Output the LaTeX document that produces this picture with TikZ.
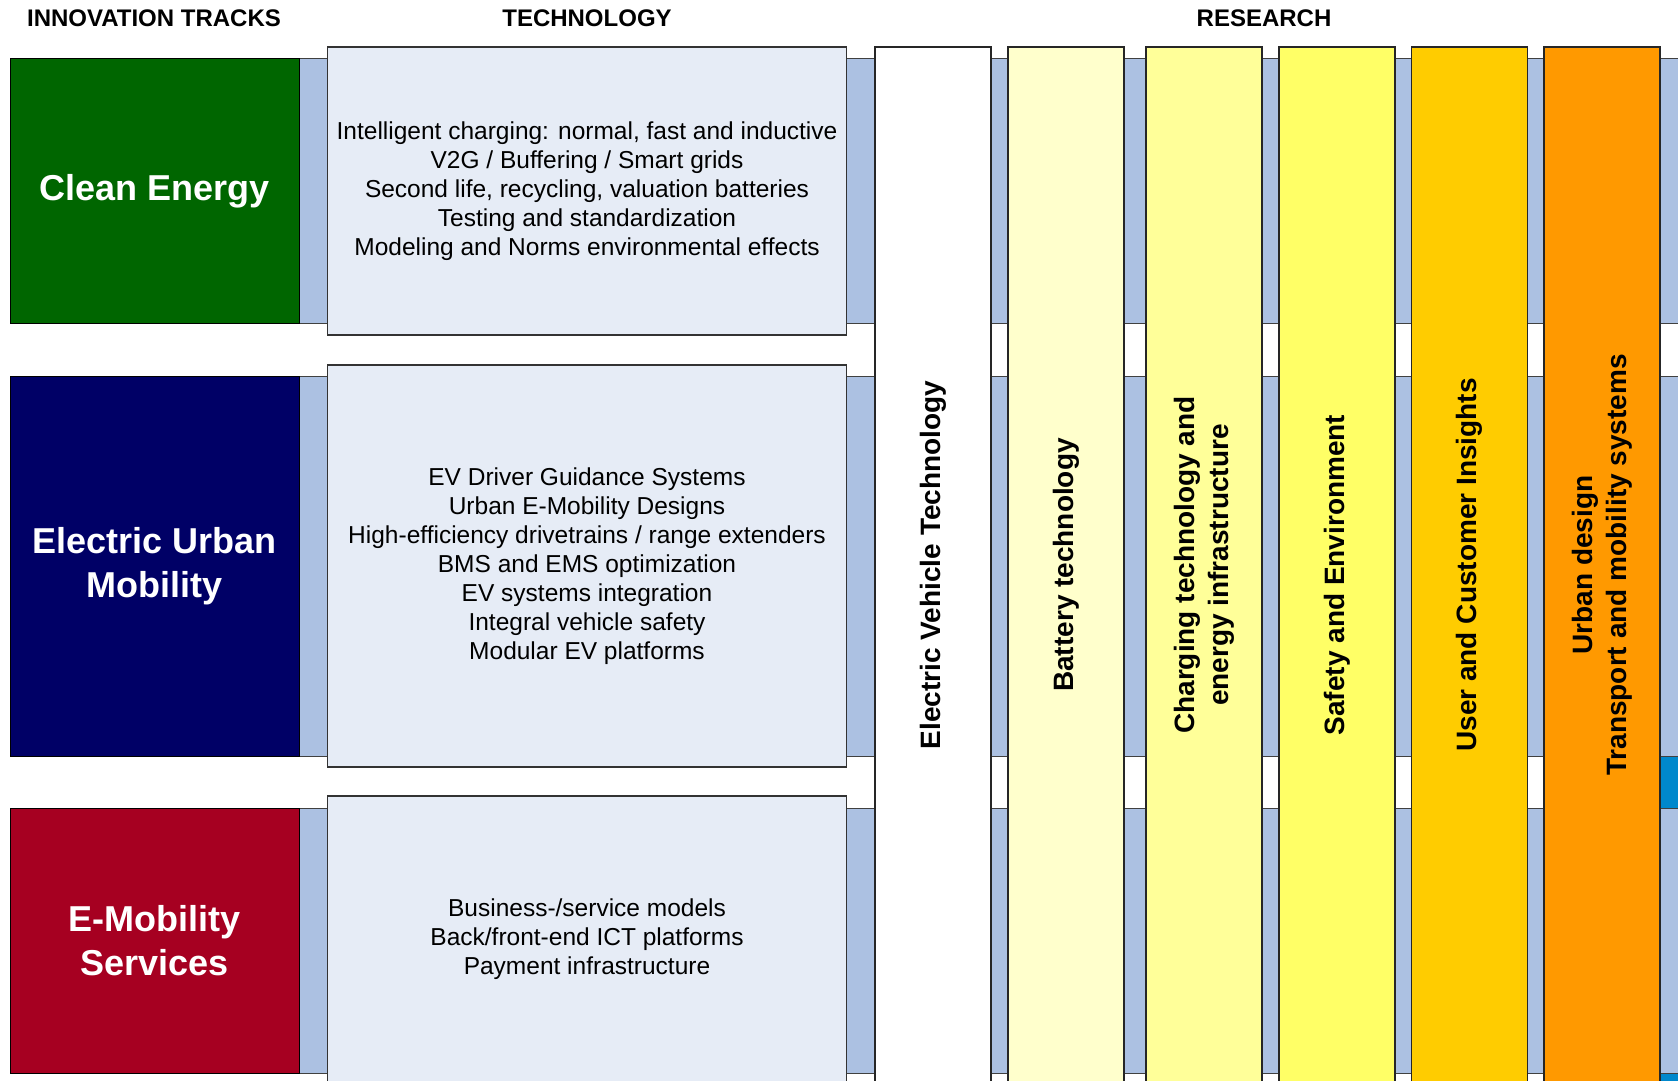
\documentclass[tikz,border=0pt]{standalone}
\usepackage{fontspec}
\setmainfont{Liberation Sans}
\definecolor{BandBlue}{RGB}{172,193,226}
\definecolor{TechFill}{RGB}{230,236,246}
\definecolor{TrackGreen}{RGB}{0,102,0}
\definecolor{TrackNavy}{RGB}{0,0,102}
\definecolor{TrackRed}{RGB}{166,0,33}
\definecolor{ResBattery}{RGB}{255,255,204}
\definecolor{ResCharging}{RGB}{255,255,153}
\definecolor{ResSafety}{RGB}{255,255,102}
\definecolor{ResUser}{RGB}{255,204,0}
\definecolor{ResUrban}{RGB}{255,153,0}
\definecolor{EdgeBlue}{RGB}{0,136,204}

\begin{document}
\begin{tikzpicture}[x=1pt, y=-1pt]
  \tikzset{
    hdr/.style={font=\fontsize{24}{28}\selectfont\bfseries},
    band/.style={fill=BandBlue, draw=black!75, line width=1pt},
    edge/.style={fill=EdgeBlue, draw=black!75, line width=1pt},
    track/.style={draw=black, line width=1pt, inner sep=0pt, align=center, text=white,
      minimum width=289pt, font=\fontsize{36}{44}\selectfont\bfseries},
    tech/.style={draw=black!80, fill=TechFill, line width=1.2pt, inner sep=0pt, align=center,
      minimum width=519pt, font=\fontsize{24.5}{29}\selectfont},
    col/.style={draw=black!85, line width=1.2pt, inner sep=0pt, align=center, rotate=90,
      minimum width=1036pt, minimum height=116pt, font=\fontsize{28}{34}\selectfont\bfseries}
  }
  \useasboundingbox (0,0) rectangle (1678,1081);
  \clip (0,0) rectangle (1678,1081);

  \node[hdr] (hTracks) at (154,18) {INNOVATION TRACKS};
  \node[hdr] (hTech) at (587,18) {TECHNOLOGY};
  \node[hdr] (hResearch) at (1264,18) {RESEARCH};

  \draw[band] (299,59) rectangle (1690,323);
  \draw[band] (299,376) rectangle (1690,756);
  \draw[band] (299,808) rectangle (1690,1073);
  \draw[edge] (1660,756) rectangle (1690,808);
  \draw[edge] (1660,1073) rectangle (1690,1095);

  \node[track, fill=TrackGreen, minimum height=264pt] (clean) at (154.5,191) {Clean Energy};
  \node[track, fill=TrackNavy, minimum height=380pt] (urban) at (154.5,566) {Electric Urban\\Mobility};
  \node[track, fill=TrackRed, minimum height=265pt] (services) at (154.5,940.5) {E-Mobility\\Services};

  \node[tech, minimum height=288pt] (techClean) at (587,191) {Intelligent charging: normal, fast and inductive\\V2G / Buffering / Smart grids\\Second life, recycling, valuation batteries\\Testing and standardization\\Modeling and Norms environmental effects};
  \node[tech, minimum height=402pt] (techUrban) at (587,566) {EV Driver Guidance Systems\\Urban E-Mobility Designs\\High-efficiency drivetrains / range extenders\\BMS and EMS optimization\\EV systems integration\\Integral vehicle safety\\Modular EV platforms};
  \node[tech, minimum height=287pt] (techServices) at (587,939.5) {Business-/service models\\Back/front-end ICT platforms\\Payment infrastructure};

  \node[col, fill=white] (ev) at (933,565) {Electric Vehicle Technology};
  \node[col, fill=ResBattery] (battery) at (1066,565) {Battery technology};
  \node[col, fill=ResCharging] (charging) at (1204,565) {Charging technology and\\energy infrastructure};
  \node[col, fill=ResSafety] (safety) at (1337,565) {Safety and Environment\hspace*{20pt}};
  \node[col, fill=ResUser] (user) at (1469.5,565) {User and Customer Insights};
  \node[col, fill=ResUrban] (design) at (1602,565) {Urban design\\Transport and mobility systems};
\end{tikzpicture}
\end{document}
